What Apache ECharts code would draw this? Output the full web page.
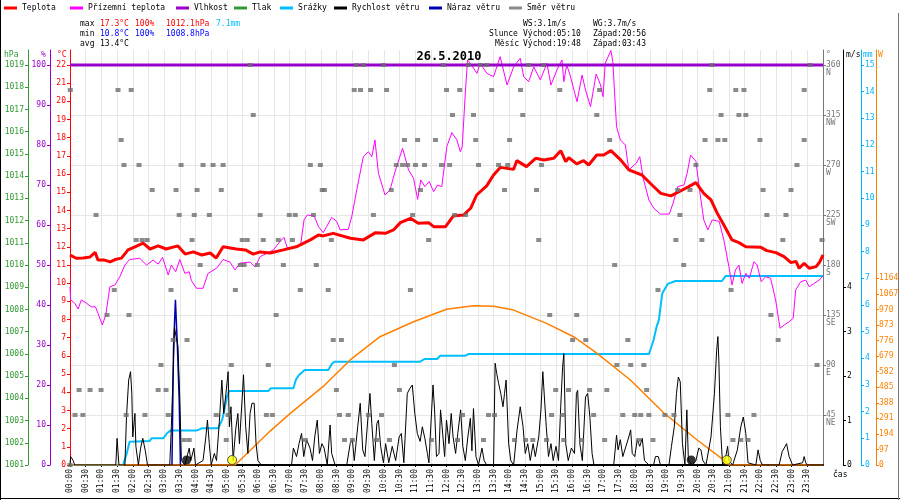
<!DOCTYPE html>
<html><head><meta charset="utf-8">
<script src="https://cdn.jsdelivr.net/npm/echarts@6/dist/echarts.min.js"></script>
<style>html,body{margin:0;padding:0;background:#fff}#c{width:900px;height:500px}</style>
</head><body><div id="c"></div>
<script>
// ---------- DATA (time in hours, value) ----------
const temperature = [[0,11.55],[0.2,11.37],[0.42,11.38],[0.64,11.44],[0.8,11.7],[0.89,11.27],[1.1,11.27],[1.28,11.17],[1.44,11.3],[1.64,11.38],[1.85,11.83],[2.07,12.0],[2.33,12.2],[2.55,11.88],[2.81,12.05],[3.06,11.88],[3.44,12.05],[3.67,11.6],[3.93,11.72],[4.2,11.55],[4.47,11.66],[4.66,11.38],[4.88,12.0],[5.3,11.88],[5.59,11.83],[5.84,11.6],[6.06,11.72],[6.38,11.66],[6.8,11.83],[7.21,12.0],[7.66,12.38],[7.92,12.65],[8.07,12.6],[8.39,12.74],[8.94,12.47],[9.35,12.38],[9.74,12.78],[10.05,12.74],[10.31,12.93],[10.53,13.33],[10.85,13.57],[11.1,13.3],[11.43,13.33],[11.59,13.11],[11.97,13.11],[12.22,13.7],[12.54,13.75],[12.77,14.12],[12.96,14.85],[13.28,15.35],[13.5,15.95],[13.72,16.37],[14.14,16.26],[14.24,16.74],[14.55,16.41],[14.84,16.87],[15.1,16.78],[15.42,16.87],[15.64,17.29],[15.8,16.69],[15.9,16.9],[16.15,16.56],[16.37,16.74],[16.53,16.5],[16.79,17.05],[17.01,17.05],[17.24,17.29],[17.55,16.78],[17.81,16.23],[18.23,15.95],[18.55,15.4],[18.83,14.94],[19.15,14.8],[19.41,15.03],[19.72,15.31],[19.95,15.53],[20.2,14.94],[20.43,14.58],[20.62,13.88],[20.84,13.2],[21.1,12.38],[21.32,12.23],[21.54,12.0],[22.02,11.97],[22.21,11.79],[22.5,11.68],[22.76,11.46],[22.98,11.13],[23.14,11.2],[23.24,10.82],[23.4,11.1],[23.56,10.82],[23.78,10.91],[23.9,11.18],[24,11.55]];

const feelsLike = [[0,9.8],[0.02,9.08],[0.15,8.9],[0.26,8.58],[0.36,9.08],[0.52,8.9],[0.68,8.7],[0.81,8.7],[0.89,8.35],[1.03,7.7],[1.14,8.25],[1.2,8.2],[1.27,9.8],[1.43,9.9],[1.59,10.36],[1.75,11.0],[1.9,11.3],[2.22,11.37],[2.44,11.0],[2.65,11.27],[2.81,11.05],[2.95,11.42],[3.13,10.45],[3.23,11.0],[3.37,10.63],[3.5,11.3],[3.66,10.54],[3.8,10.63],[3.87,10.14],[4.03,9.72],[4.24,9.72],[4.4,10.54],[4.67,10.82],[4.88,11.3],[5.1,11.16],[5.26,10.73],[5.42,11.1],[5.74,11.16],[5.9,10.9],[6.06,11.46],[6.27,11.64],[6.48,11.83],[6.69,12.28],[6.82,12.52],[6.93,11.92],[7.12,11.97],[7.35,12.1],[7.46,13.48],[7.56,13.75],[7.78,13.7],[7.92,13.11],[8.07,12.78],[8.18,13.11],[8.34,13.62],[8.5,13.4],[8.61,12.93],[8.87,12.96],[8.98,13.66],[9.14,15.13],[9.35,16.96],[9.51,17.23],[9.62,16.96],[9.72,17.88],[9.83,16.05],[10.04,14.85],[10.2,15.13],[10.36,16.14],[10.6,17.42],[10.79,16.23],[10.95,15.77],[11.08,14.61],[11.18,15.68],[11.31,15.31],[11.45,15.59],[11.59,15.03],[11.71,15.4],[11.85,15.31],[12.01,17.51],[12.17,18.28],[12.33,17.88],[12.44,17.23],[12.5,17.5],[12.6,20.45],[12.67,22.28],[12.76,22.09],[12.97,21.54],[13.07,22.09],[13.29,21.54],[13.5,21.36],[13.71,22.46],[13.93,20.9],[14.14,21.9],[14.35,22.37],[14.46,21.36],[14.62,21.08],[14.78,21.9],[14.99,21.18],[15.2,22.09],[15.33,20.9],[15.52,21.73],[15.68,22.28],[15.74,21.08],[15.83,22.0],[15.93,21.5],[16.16,19.98],[16.32,21.45],[16.43,20.63],[16.59,19.71],[16.77,21.5],[16.91,20.9],[16.99,20.26],[17.06,22.1],[17.24,22.8],[17.3,22.2],[17.42,18.61],[17.54,17.88],[17.7,17.6],[17.81,16.23],[18.05,16.6],[18.16,16.96],[18.27,15.77],[18.45,14.58],[18.61,14.12],[18.82,13.8],[19.1,13.8],[19.22,14.39],[19.37,15.31],[19.57,15.4],[19.67,16.05],[19.78,17.05],[19.95,16.7],[20.08,14.94],[20.2,13.48],[20.33,12.93],[20.47,13.48],[20.69,13.4],[20.84,12.38],[21.0,10.91],[21.1,9.9],[21.21,10.73],[21.32,11.0],[21.42,9.99],[21.54,10.54],[21.65,10.27],[21.8,11.18],[21.9,11.0],[22.03,10.08],[22.17,10.36],[22.33,10.27],[22.49,9.08],[22.63,7.52],[22.76,7.7],[22.92,7.88],[23.05,8.07],[23.13,9.63],[23.29,10.08],[23.45,10.17],[23.56,9.8],[23.72,9.99],[23.88,10.17],[23.98,10.36]];

const humidity = [[0,100],[24,100]];
const pressure = [];

const rainfall = [[0,0],[1.69,0],[1.8,0.4],[1.9,0.875],[2.54,0.9],[2.6,1.0],[2.97,1.0],[3.1,1.2],[3.2,1.29],[4.03,1.29],[4.2,1.375],[4.72,1.375],[4.85,1.7],[4.9,1.95],[5.0,2.56],[5.07,2.775],[6.32,2.775],[6.4,2.875],[7.12,2.875],[7.2,3.2],[7.3,3.375],[7.48,3.56],[8.23,3.56],[8.35,3.8],[8.43,3.875],[11.16,3.875],[11.3,3.975],[11.7,3.975],[11.8,4.1],[12.6,4.1],[12.7,4.16],[18.45,4.16],[18.55,4.5],[18.6,4.69],[18.7,5.2],[18.77,5.44],[18.85,6.2],[18.88,6.44],[19.05,6.79],[19.3,6.9],[20.78,6.9],[20.9,7.09],[24,7.09]];

const solar = [[0,0],[5.26,0],[5.74,90],[6.37,210],[7.01,320],[7.76,440],[8.07,490],[8.93,655],[9.88,800],[10.95,893],[12.0,971],[12.86,993],[13.5,990],[14.14,966],[15.19,883],[16.05,800],[16.79,698],[17.86,530],[18.93,324],[19.99,156],[20.84,31],[21.0,0],[24,0]];

const windSpeed = [[0,0],[0.02,0.19],[0.1,0.1],[0.15,0],[1.46,0],[1.5,0.6],[1.56,0],[1.75,0],[1.8,1.08],[1.87,1.91],[1.93,2.1],[1.97,1.61],[2.0,0.63],[2.07,1.16],[2.1,0.42],[2.18,0],[2.25,0.38],[2.32,0.6],[2.4,0.32],[2.47,0],[3.18,0],[3.23,0.86],[3.28,1.91],[3.33,3.1],[3.38,2.89],[3.44,2.67],[3.5,1.47],[3.55,0.1],[3.66,0],[3.8,0.38],[3.85,0.1],[3.95,0.38],[4.0,0],[4.24,0.1],[4.33,0.63],[4.38,1.01],[4.44,0.48],[4.5,0],[4.6,0.26],[4.67,0.1],[4.76,0.98],[4.84,1.91],[4.9,1.16],[4.97,1.61],[5.04,2.1],[5.08,0.86],[5.13,1.31],[5.2,0.1],[5.28,0.79],[5.35,1.16],[5.4,0.48],[5.49,1.53],[5.53,2.03],[5.6,0.86],[5.67,0.26],[5.74,1.16],[5.8,1.39],[5.87,1.39],[5.93,0.48],[5.99,0.1],[6.1,0],[7.06,0],[7.12,0.38],[7.22,0.19],[7.3,0.48],[7.38,0.71],[7.45,0.19],[7.54,0.57],[7.65,0.38],[7.73,0.1],[7.8,0.63],[7.88,1.01],[7.95,0.26],[8.03,0.48],[8.1,0.38],[8.2,0],[8.29,0.9],[8.34,0.26],[8.45,0],[8.82,0],[8.93,0.48],[9.0,0.57],[9.06,0.1],[9.17,0.86],[9.25,1.39],[9.33,0.34],[9.4,0.19],[9.49,1.01],[9.56,1.61],[9.62,0.93],[9.7,0.1],[9.78,0.93],[9.83,1.01],[9.9,0.42],[9.99,0.05],[10.06,0.48],[10.16,0.05],[10.27,0.42],[10.38,0.1],[10.49,0.63],[10.56,0.71],[10.64,0.05],[10.75,1.61],[10.83,1.72],[10.91,1.8],[10.99,1.16],[11.07,0.71],[11.16,0.53],[11.23,0.86],[11.31,0.6],[11.39,0.26],[11.44,0.05],[11.51,1.01],[11.57,1.8],[11.62,1.24],[11.68,0.19],[11.76,0.26],[11.81,1.24],[11.86,0.86],[11.94,0.19],[12.0,1.01],[12.08,0.48],[12.15,1.16],[12.21,0.63],[12.29,0.26],[12.36,0.71],[12.45,1.24],[12.52,0.42],[12.6,0.1],[12.68,0.63],[12.76,1.05],[12.81,0.32],[12.86,1.27],[12.94,0.19],[13.02,0],[13.13,0.38],[13.2,0.1],[13.28,0],[13.5,0],[13.55,2.29],[13.6,2.06],[13.66,1.84],[13.73,1.61],[13.8,1.31],[13.85,1.61],[13.9,1.91],[13.98,0.48],[14.05,0.1],[14.14,0],[14.25,0.79],[14.35,1.31],[14.44,0.86],[14.51,0.26],[14.59,0.48],[14.67,0.1],[14.76,0.48],[14.83,0.19],[14.94,0.63],[15.01,1.24],[15.07,2.1],[15.12,1.53],[15.18,0.86],[15.25,0.19],[15.33,0.48],[15.4,0.1],[15.49,0.42],[15.57,0.1],[15.64,1.31],[15.7,2.2],[15.74,2.51],[15.8,0.48],[15.88,0.1],[15.98,0.38],[16.08,0.26],[16.14,1.61],[16.18,1.68],[16.25,0.48],[16.33,0.1],[16.43,1.53],[16.5,1.61],[16.57,1.08],[16.64,0.26],[16.7,0],[17.33,0],[17.42,0.67],[17.47,0.34],[17.54,0.57],[17.62,0.19],[17.68,0.16],[17.81,0.63],[17.87,0.79],[17.92,0.26],[18.0,0.19],[18.08,0.57],[18.16,0.42],[18.24,0.6],[18.31,0.1],[18.45,0],[18.6,0],[18.66,0.19],[18.75,0.19],[18.82,0],[19.09,0],[19.17,0.42],[19.26,0.86],[19.33,1.61],[19.39,1.98],[19.45,1.87],[19.52,0.48],[19.6,0],[19.66,1.24],[19.71,0.1],[19.84,0],[19.95,0.1],[20.04,0.38],[20.11,0.34],[20.17,0.1],[20.27,0],[20.43,0.63],[20.54,1.61],[20.61,2.58],[20.65,2.89],[20.68,2.36],[20.73,0.86],[20.8,0],[20.9,0.19],[20.96,0.42],[21.0,0.1],[21.12,0],[21.27,0.34],[21.38,0.86],[21.46,1.08],[21.54,0.71],[21.61,0.05],[21.86,0],[21.93,0.34],[22.0,0.1],[22.07,0],[22.6,0],[22.7,0.3],[22.84,0.48],[22.92,0.19],[23.03,0],[23.35,0.05],[23.4,0.19],[23.45,0.05],[23.5,0],[24,0]];

const windGust = [[3.25,0],[3.3,2.63],[3.36,3.72],[3.42,2.73],[3.48,1.47],[3.52,0]];

// wind direction samples: times (h) per direction row
const dirN   = [5.74,9.13,9.35,9.99,11.9,12.7,13.08,13.28,14.62,15.1,20.46,23.59];
const dirNNW = [0.01,1.53,1.95,9.06,9.26,9.58,10.09,12.0,12.42,13.44,14.36,15.61,16.88,20.39,21.22,21.48,23.4];
const dirNW  = [5.84,12.19,12.86,14.43,16.79,20.75,21.32,21.54];
const dirWNW = [1.63,10.66,11.08,11.65,12.93,14.01,17.2,20.24,20.65,20.87,21.99,23.4];
const dirW   = [1.72,2.2,3.54,4.24,4.56,4.88,7.66,7.98,10.4,10.6,10.76,11.01,11.3,11.84,12.1,13.02,13.66,13.95,15.03,19.95,23.17];
const dirWSW = [2.62,3.38,4.05,4.82,8.04,8.11,10.24,11.17,13.85,14.87,19.37,19.76,22.09,22.98];
const dirSW  = [0.83,3.48,3.96,4.44,6.06,6.99,7.18,7.76,9.67,10.92,12.26,12.61,19.44,22.21,22.82];
const dirSSW = [2.11,2.3,2.46,3.89,5.49,5.65,6.16,6.64,7.09,8.33,11.43,14.94,19.31,20.14,22.72,23.97];
const dirS   = [4.15,5.43,5.55,5.97,6.8,7.85,17.36,19.56];
const dirSSE = [1.41,3.22,5.27,7.34,8.23,10.85,18.74,21.07];
const dirSE  = [1.18,1.88,6.57,15.29,16.15,22.34];
const dirESE = [3.29,3.73,8.39,8.65,16.02,16.44,17.78,22.57];
const dirE   = [2.9,5.14,6.32,10.34,17.43,17.87,18.29,23.81];
const dirENE = [0.29,0.64,0.99,2.81,3.06,8.49,10.5,15.48,15.89,16.56,17.11,18.38];
const dirNE  = [0.16,0.41,1.79,2.39,3.13,4.66,5.04,6.26,6.45,8.59,8.87,9.51,9.93,12.51,13.34,13.53,15.35,15.7,16.69,17.62,18.0,18.19,18.45,18.96,19.25,20.97,21.8];
const dirNNE = [3.64,3.8,4.98,7.5,8.75,9.0,9.77,10.18,11.52,12.35,13.18,14.17,14.52,14.75,15.19,15.74,16.31,17.04,18.13,18.58,21.13,21.38,21.61];
const dirCalm = [0];
const dirRows = [[360,dirN],[337.5,dirNNW],[315,dirNW],[292.5,dirWNW],[270,dirW],[247.5,dirWSW],[225,dirSW],[202.5,dirSSW],[180,dirS],[157.5,dirSSE],[135,dirSE],[112.5,dirESE],[90,dirE],[67.5,dirENE],[45,dirNE],[22.5,dirNNE],[0,dirCalm]];

const sunEvents = [5.167, 20.933];   // 05:10, 20:56
const moonEvents = [19.8, 3.717];    // 19:48, 03:43

// tick labels
const tempTicks = [0,1,2,3,4,5,6,7,8,9,10,11,12,13,14,15,16,17,18,19,20,21,22];
const humTicks = [0,10,20,30,40,50,60,70,80,90,100];
const presTicks = [1001,1002,1003,1004,1005,1006,1007,1008,1009,1010,1011,1012,1013,1014,1015,1016,1017,1018,1019];
const dirTicks = [45,90,135,180,225,270,315,360];
const dirNames = ['NE','E','SE','S','SW','W','NW','N'];
const msTicks = [0,1,2,3,4];
const mmTicks = [0,1,2,3,4,5,6,7,8,9,10,11,12,13,14,15];
const wTicks = [0,97,194,291,388,485,582,679,776,873,970,1067,1164];

const legendNames = ['Teplota','Přízemní teplota','Vlhkost','Tlak','Srážky','Rychlost větru','Náraz větru','Směr větru'];
const statsMax = ['max','17.3°C','100%','1012.1hPa','7.1mm'];
const statsMin = ['min','10.8°C','100%','1008.8hPa'];
const statsAvg = ['avg','13.4°C'];
const windInfo = ['WS:3.1m/s','WG:3.7m/s'];
const sunInfo = ['Slunce','Východ:05:10','Západ:20:56'];
const moonInfo = ['Měsíc','Východ:19:48','Západ:03:43'];
const dateTitle = '26.5.2010';

// ---------- CHART ----------
const F = 'DejaVu Sans Mono';
const EXT = 415/400; // plot extends 15px above the top tick
const chart = echarts.init(document.getElementById('c'), null, {renderer:'canvas'});

const dirData = [];
dirRows.forEach(r => r[1].forEach(t => dirData.push([t, r[0]])));

const plain = v => String(Math.round(v*1000)/1000);

function yAx(o){
  return Object.assign({
    type:'value', splitLine:{show:false},
    axisLine:{show:true, lineStyle:{color:o.color, width:1}},
    axisTick:{show:true, length:3, lineStyle:{color:o.color}, customValues:o.ticks},
    axisLabel:{show:true, color:o.labelColor||o.color, fontFamily:F, fontSize:8, margin:o.margin||4, customValues:o.ticks, formatter:plain}
  }, o.extra);
}

const yAxes = [
  yAx({color:'#ff0000', ticks:tempTicks, extra:{position:'left', offset:0, min:0, max:22*EXT}}),
  yAx({color:'#9900cc', ticks:humTicks, extra:{position:'left', offset:20, min:0, max:100*EXT}}),
  yAx({color:'#339933', ticks:presTicks, extra:{position:'left', offset:42, min:1001, max:1001+18*EXT}}),
  { type:'value', position:'right', offset:0, min:0, max:360*EXT, interval:45,
    splitLine:{show:true, lineStyle:{color:'#e6e6e6', width:1}},
    axisLine:{show:true, lineStyle:{color:'#777', width:1}},
    axisTick:{show:true, length:3, lineStyle:{color:'#777'}, customValues:dirTicks},
    axisLabel:{show:true, color:'#777', fontFamily:F, fontSize:8, margin:3, customValues:dirTicks, formatter:plain} },
  { type:'value', position:'right', offset:0, min:0, max:360*EXT, splitLine:{show:false},
    axisLine:{show:false}, axisTick:{show:false},
    axisLabel:{show:true, color:'#777', fontFamily:F, fontSize:8, margin:3, verticalAlign:'top', lineHeight:15,
      customValues:dirTicks, formatter:v => dirNames[dirTicks.indexOf(Math.round(v*10)/10)] || ''} },
  yAx({color:'#000000', ticks:msTicks, extra:{position:'right', offset:20, min:0, max:9*EXT}}),
  yAx({color:'#00b4ff', ticks:mmTicks, extra:{position:'right', offset:38, min:0, max:15*EXT}}),
  yAx({color:'#ff8000', ticks:wTicks, margin:3, extra:{position:'right', offset:53, min:0, max:1164*15/7*EXT}})
];

const legendLeft = [4,70,176,234,280,334,429,509];
const legends = legendNames.map((n,i) => ({
  show:true, left:legendLeft[i], top:4, padding:0, itemGap:0, icon:'rect', itemWidth:13, itemHeight:3,
  selectedMode:false, data:[n], textStyle:{fontFamily:F, fontSize:8, color:'#000'}
}));

function txt(s, x, y, color, extra){
  return Object.assign({type:'text', silent:true, z:100, style:{text:s, x:x, y:y, fill:color||'#000', font:'8px "DejaVu Sans Mono"', verticalAlign:'middle', align:'left'}}, extra||{});
}
const graphics = [
  txt(statsMax[0],80,24), txt(statsMax[1],100,24,'#ff0000'), txt(statsMax[2],135,24,'#ff0000'), txt(statsMax[3],166,24,'#ff0000'), txt(statsMax[4],216,24,'#00bfff'),
  txt(statsMin[0],80,34), txt(statsMin[1],100,34,'#0000ff'), txt(statsMin[2],135,34,'#0000ff'), txt(statsMin[3],166,34,'#0000ff'),
  txt(statsAvg[0],80,44), txt(statsAvg[1],100,44),
  txt(windInfo[0],523,24), txt(windInfo[1],593,24),
  txt(sunInfo[0],489,34), txt(sunInfo[1],523,34), txt(sunInfo[2],593,34),
  txt(moonInfo[0],495,44), txt(moonInfo[1],523,44), txt(moonInfo[2],593,44),
  {type:'text', z:100, silent:true, style:{text:dateTitle, x:449, y:57, fill:'#000', font:'bold 12px "DejaVu Sans Mono"', align:'center', verticalAlign:'middle'}},
  txt('hPa',4,55,'#339933'), txt('%',41,55,'#9900cc'), txt('°C',57,55,'#ff0000'),
  txt('°',826,55,'#777'), txt('m/s',846,55,'#000'), txt('mm',863,55,'#00b4ff'), txt('W',878,55,'#ff8000'),
  txt('čas',833,475,'#000'),
  {type:'line', silent:true, shape:{x1:0.5,y1:0,x2:0.5,y2:500}, style:{stroke:'#000', lineWidth:1}},
  {type:'line', silent:true, shape:{x1:0,y1:498.5,x2:900,y2:498.5}, style:{stroke:'#000', lineWidth:1}},
  {type:'line', silent:true, shape:{x1:898.5,y1:13,x2:898.5,y2:500}, style:{stroke:'#777', lineWidth:1}}
];

function pad(n){return (n<10?'0':'')+n;}

const option = {
  animation:false,
  backgroundColor:'#ffffff',
  legend: legends,
  graphic: graphics,
  grid:{left:70, right:77, top:50, bottom:35, containLabel:false, outerBoundsMode:'none'},
  xAxis:{type:'value', min:0, max:24, interval:0.5,
    axisLine:{show:true, onZero:false, lineStyle:{color:'#000', width:2}},
    axisTick:{show:true, length:2, lineStyle:{color:'#000'}},
    splitLine:{show:true, lineStyle:{color:'#e6e6e6', width:1}},
    axisLabel:{rotate:90, fontFamily:F, fontSize:8, color:'#000', margin:4, showMaxLabel:false,
      formatter:v => v>=24 ? '' : pad(Math.floor(v))+':'+(v%1 ? '30':'00')}},
  yAxis: yAxes,
  series:[
    {name:'Srážky', type:'line', yAxisIndex:6, data:rainfall, showSymbol:false, symbol:'none', color:'#00bfff', lineStyle:{width:2, color:'#00bfff'}, z:2},
    {name:'Sluneční záření', type:'line', yAxisIndex:7, data:solar, showSymbol:false, symbol:'none', color:'#ff8000', lineStyle:{width:1.5, color:'#ff8000'}, z:2},
    {name:'Náraz větru', type:'line', yAxisIndex:5, data:windGust, showSymbol:false, symbol:'none', color:'#0000b0', lineStyle:{width:1.5, color:'#0000b0'}, z:3},
    {name:'Rychlost větru', type:'line', yAxisIndex:5, data:windSpeed, showSymbol:false, symbol:'none', color:'#000', lineStyle:{width:1, color:'#000'}, z:4},
    {name:'Přízemní teplota', type:'line', yAxisIndex:0, data:feelsLike, showSymbol:false, symbol:'none', color:'#ff00ff', lineStyle:{width:1, color:'#ff00ff'}, z:5},
    {name:'Teplota', type:'line', yAxisIndex:0, data:temperature, showSymbol:false, symbol:'none', color:'#ff0000', lineStyle:{width:3, color:'#ff0000'}, z:6},
    {name:'Vlhkost', type:'line', yAxisIndex:1, data:humidity, showSymbol:false, symbol:'none', color:'#9900cc', lineStyle:{width:3, color:'#9900cc'}, z:6},
    {name:'Tlak', type:'line', yAxisIndex:2, data:pressure, showSymbol:false, symbol:'none', color:'#339933', lineStyle:{width:2, color:'#339933'}},
    {name:'Směr větru', type:'scatter', yAxisIndex:3, data:dirData, symbol:'rect', symbolSize:[5,4], color:'#6e6e6e', itemStyle:{color:'#6e6e6e'}, z:7},
    {name:'Slunce', type:'scatter', yAxisIndex:5, data:sunEvents.map(t=>[t,0]), symbol:'circle', symbolSize:9, symbolOffset:[0,-5], itemStyle:{color:'#ffff00', borderColor:'#333', borderWidth:1}, z:8},
    {name:'Měsíc', type:'scatter', yAxisIndex:5, data:moonEvents.map(t=>[t,0]), symbol:'circle', symbolSize:9, symbolOffset:[0,-5], itemStyle:{color:'#000'}, z:8}
  ]
};
chart.setOption(option);
</script></body></html>
